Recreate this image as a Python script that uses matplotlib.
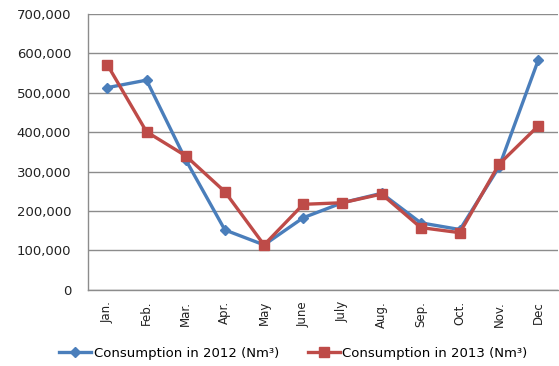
import matplotlib
matplotlib.use("Agg")
import matplotlib.pyplot as plt
from matplotlib.ticker import FuncFormatter

months = ["Jan.", "Feb.", "Mar.", "Apr.", "May", "June", "July", "Aug.", "Sep.", "Oct.", "Nov.", "Dec"]
cons_2012 = [513000, 532000, 330000, 152000, 114000, 183000, 221000, 245000, 170000, 153000, 312000, 583000]
cons_2013 = [571000, 401000, 340000, 249000, 114000, 217000, 221000, 243000, 158000, 145000, 319000, 416000]
label_2012 = "Consumption in 2012 (Nm³)"
label_2013 = "Consumption in 2013 (Nm³)"

fig = plt.figure(figsize=(5.59, 3.66), dpi=100)
ax = fig.add_axes([0.157, 0.208, 0.841, 0.754])

x = list(range(len(months)))
ax.plot(x, cons_2012, color="#4a7ebb", lw=2.4, marker="D", ms=5.5, label=label_2012, zorder=3)
ax.plot(x, cons_2013, color="#be4b48", lw=2.4, marker="s", ms=7.5, label=label_2013, zorder=4)

ax.set_xlim(-0.5, len(months) - 0.5)
ax.set_ylim(0, 700000)
ax.set_yticks(range(0, 700001, 100000))
ax.yaxis.set_major_formatter(FuncFormatter(lambda v, p: f"{int(v):,}"))
ax.set_xticks(x)
ax.set_xticklabels(months, rotation=90, fontsize=8.5, color="#222222")
ax.tick_params(axis="y", labelsize=9.5, colors="#222222", length=0, pad=12)
ax.tick_params(axis="x", length=0, pad=8)
ax.grid(axis="y", color="#8c8c8c", lw=1)
ax.set_axisbelow(True)
for s in ["top", "right"]:
    ax.spines[s].set_visible(False)
for s in ["left", "bottom"]:
    ax.spines[s].set_color("#8c8c8c")
    ax.spines[s].set_linewidth(1)

fig.legend(loc="center", bbox_to_anchor=(0.525, 0.035), ncol=2, frameon=False,
           fontsize=9.5, handlelength=2.4, handletextpad=0.2, columnspacing=2.2)

fig.savefig("out.png", dpi=100)
